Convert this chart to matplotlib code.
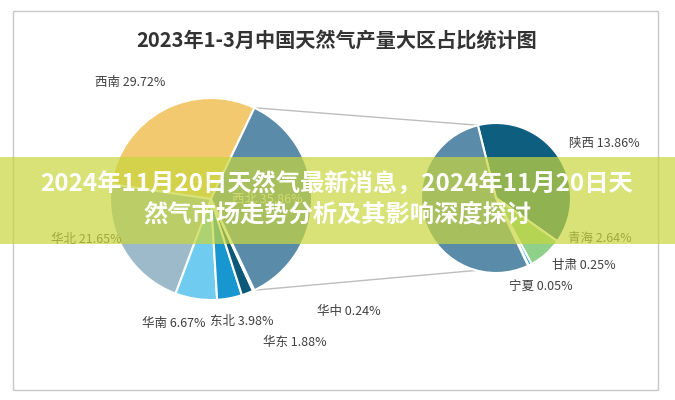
import numpy as np
import matplotlib.pyplot as plt
from matplotlib.patches import Rectangle

plt.rcParams['font.family'] = ['Noto Sans CJK SC', 'DejaVu Sans']

title = '2023年1-3月中国天然气产量大区占比统计图'
banner_lines = ['2024年11月20日天然气最新消息，2024年11月20日天',
                '然气市场走势分析及其影响深度探讨']

# main pie (percent of national output)
main_regions = ['西南', '华北', '华南', '东北', '华东', '华中', '西北']
main_share = [29.72, 21.65, 6.67, 3.98, 1.88, 0.24, 35.86]
main_colors = ['#F2C96E', '#9DBACB', '#6FCBEF', '#1796CF', '#0B5878', '#8CC86E', '#5A8CAA']

# second pie, split of the 西北 slice
sub_regions = ['陕西', '青海', '甘肃', '宁夏', '新疆']
sub_share = [13.86, 2.64, 0.25, 0.05, 19.06]
sub_colors = ['#0E5E80', '#8FD08A', '#0B9EDB', '#DDEFF5', '#5A8CAA']

# label spots in picture pixels (x, y from top)
main_label_xy = [(130, 82), (86, 240), (174, 323), (242, 321), (295, 342), (349, 312), (267, 199)]
sub_label_xy = [(604, 143), (600, 238), (584, 265), (541, 287), None]

W, H = 675, 400
fig = plt.figure(figsize=(W / 100, H / 100), dpi=100)
ax = fig.add_axes([0, 0, 1, 1])


def up(y):
    return H - y


main_c = (211, up(199))
main_r = 101
sub_c = (496, up(198))
sub_r = 75

# 西北 slice centred on 3 o'clock, others run counter-clockwise from its top edge
half = 360 * main_share[-1] / sum(main_share) / 2
ax.pie(main_share, colors=main_colors, startangle=half, center=main_c, radius=main_r,
       counterclock=True, wedgeprops=dict(edgecolor='white', linewidth=1.5))
sub_start = 104
ax.pie(sub_share, colors=sub_colors, startangle=sub_start, center=sub_c, radius=sub_r,
       counterclock=False, wedgeprops=dict(edgecolor='white', linewidth=1.5))

# connector lines
sub_end = sub_start - 360 * sum(sub_share[:-1]) / sum(sub_share)
for a1, a2 in [(half, sub_start), (-half, sub_end)]:
    p1 = (main_c[0] + main_r * np.cos(np.radians(a1)), main_c[1] + main_r * np.sin(np.radians(a1)))
    p2 = (sub_c[0] + sub_r * np.cos(np.radians(a2)), sub_c[1] + sub_r * np.sin(np.radians(a2)))
    ax.plot([p1[0], p2[0]], [p1[1], p2[1]], color='#BDBDBD', lw=1, zorder=0)

for name, val, xy in zip(main_regions, main_share, main_label_xy):
    col = '#E4EAEE' if name == '西北' else '#404040'
    ax.text(xy[0], up(xy[1]), f'{name} {val:.2f}%', ha='center', va='center',
            fontsize=9, color=col)
for name, val, xy in zip(sub_regions, sub_share, sub_label_xy):
    if xy is None:
        continue
    ax.text(xy[0], up(xy[1]), f'{name} {val:.2f}%', ha='center', va='center',
            fontsize=9, color='#404040')

ax.text(337, up(40), title, ha='center', va='center', fontsize=14.5,
        fontweight='bold', color='#333333')

ax.add_patch(Rectangle((13, up(390)), 645, 379, fill=False, edgecolor='#C8C8C8', lw=1))

# overlay banner
ax.add_patch(Rectangle((0, up(244)), W, 87, facecolor=(200 / 255, 214 / 255, 60 / 255),
                       alpha=0.7, edgecolor='none', zorder=5))
ax.text(337, up(185), banner_lines[0], ha='center', va='center', fontsize=17.5,
        fontweight='bold', color='white', zorder=6)
ax.text(337, up(215), banner_lines[1], ha='center', va='center', fontsize=17.5,
        fontweight='bold', color='white', zorder=6)

ax.set_xlim(0, W)
ax.set_ylim(0, H)
ax.set_aspect('equal')
ax.axis('off')
fig.savefig('out.png', dpi=100)
